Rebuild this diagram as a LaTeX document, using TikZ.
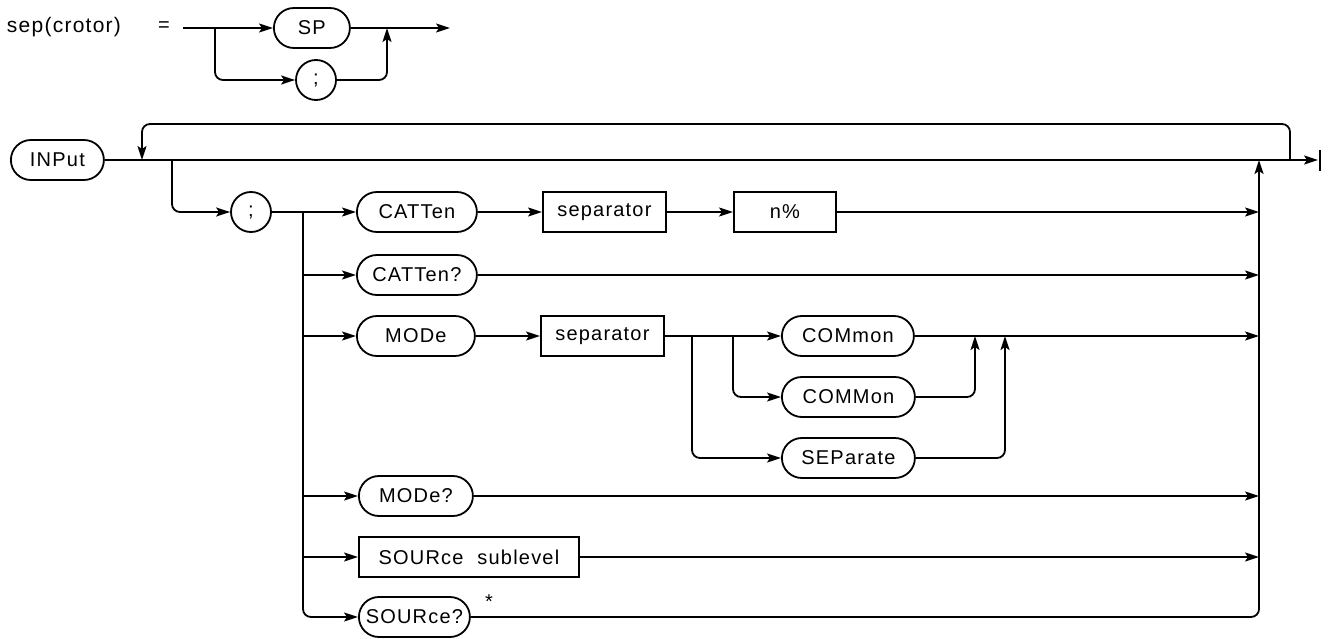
\documentclass[tikz,border=0pt]{standalone}
\usepackage{fontspec}
\setmainfont[LetterSpace=6]{Liberation Sans}
\usetikzlibrary{arrows.meta,shapes.misc}
\begin{document}
\begin{tikzpicture}[x=1pt,y=-1pt,
  line width=1.8pt,
  lbl/.style={font=\fontsize{20}{24}\selectfont, inner sep=0pt},
  pill/.style={draw, rounded rectangle, minimum height=40pt, inner xsep=4pt, font=\fontsize{20}{24}\selectfont, anchor=west},
  semi/.style={draw, circle, minimum size=40pt, inner sep=0pt, font=\fontsize{20}{24}\selectfont},
  rbox/.style={draw, rectangle, minimum height=40pt, inner sep=0pt, font=\fontsize{20}{24}\selectfont, anchor=west},
  arr/.style={-{Stealth[length=14pt,width=9pt,inset=3pt]}},
  rbend/.style={rounded corners=8pt}]
\useasboundingbox (0,0) rectangle (1329,639);

% ---- separator definition
\node[lbl, anchor=west, font=\fontsize{21}{24}\selectfont] (sepname) at (6,27) {sep(crotor)};
\node[lbl] (eq) at (164,27) {=};
\coordinate (s0) at (183,28);
\coordinate (sb) at (215,28);
\node[pill, minimum width=84pt] (SP) at (273,28) {SP};
\node[semi] (semiA) at (316,80) {;};
\coordinate (sm) at (387,28);
\coordinate (send) at (450,28);
\draw[arr] (s0) -- (SP.west);
\draw[arr, rbend] (sb) -- (215,80) -- (semiA.west);
\draw[arr] (SP.east) -- (send);
\draw[arr, rbend] (semiA.east) -- (sm |- semiA.east) -- (sm);

% ---- main INPut
\node[pill, minimum width=101pt] (INPut) at (10,160) {INPut};
\coordinate (mend) at (1318,160);
\draw[arr] (INPut.east) -- (mend);
\draw (1320,150) -- (1320,171);
\coordinate (loopR) at (1290,160);
\coordinate (loopL) at (142,160);
\draw[arr, rbend] (loopR) -- (1290,124) -- (142,124) -- (loopL);

\node[semi] (semiB) at (251,212) {;};
\coordinate (br1) at (172,160);
\draw[arr, rbend] (br1) -- (172,212) -- (semiB.west);

% rows
\node[pill, minimum width=128pt] (CATTen) at (356,212) {CATTen};
\node[rbox, minimum width=123pt] (sepA) at (542,212) {separator};
\node[rbox, minimum width=102pt] (npct) at (733,212) {n\%};
\node[pill, minimum width=128pt] (CATTenQ) at (356,275) {CATTen?};
\node[pill, minimum width=126pt] (MODe) at (356,336) {MODe};
\node[rbox, minimum width=123pt] (sepB) at (540,336) {separator};
\node[pill, minimum width=140pt] (COMmon) at (781,336) {COMmon};
\node[pill, minimum width=141pt] (COMMon) at (781,397) {COMMon};
\node[pill, minimum width=141pt] (SEParate) at (781,458) {SEParate};
\node[pill, minimum width=122pt] (MODeQ) at (358,496) {MODe?};
\node[rbox, minimum width=220pt] (sub) at (358,557) {SOURce\hspace{14pt}sublevel};
\node[pill, minimum width=119pt] (SOURceQ) at (358,617) {SOURce?};
\node[lbl] (star) at (489,602) {*};

% left vertical
\coordinate (lv) at (303,212);
\draw[arr] (semiB.east) -- (CATTen.west);
\draw[arr, rbend] (lv) -- (303,617) -- (SOURceQ.west);
\draw[arr] (303,275) -- (CATTenQ.west);
\draw[arr] (303,336) -- (MODe.west);
\draw[arr] (303,496) -- (MODeQ.west);
\draw[arr] (303,557) -- (sub.west);

% right collector
\coordinate (rv) at (1259,160);
\draw[arr, rbend] (SOURceQ.east) -- (1259,617) -- (rv);
\draw[arr] (CATTen.east) -- (sepA.west);
\draw[arr] (sepA.east) -- (npct.west);
\draw[arr] (npct.east) -- (1259,212);
\draw[arr] (CATTenQ.east) -- (1259,275);
\draw[arr] (MODe.east) -- (sepB.west);
\draw[arr] (sepB.east) -- (COMmon.west);
\draw[arr, rbend] (692,336) -- (692,458) -- (SEParate.west);
\draw[arr, rbend] (733,336) -- (733,397) -- (COMMon.west);
\draw[arr, rbend] (COMMon.east) -- (975,397) -- (975,336);
\draw[arr, rbend] (SEParate.east) -- (1005,458) -- (1005,336);
\draw[arr] (COMmon.east) -- (1259,336);
\draw[arr] (MODeQ.east) -- (1259,496);
\draw[arr] (sub.east) -- (1259,557);
\end{tikzpicture}
\end{document}
